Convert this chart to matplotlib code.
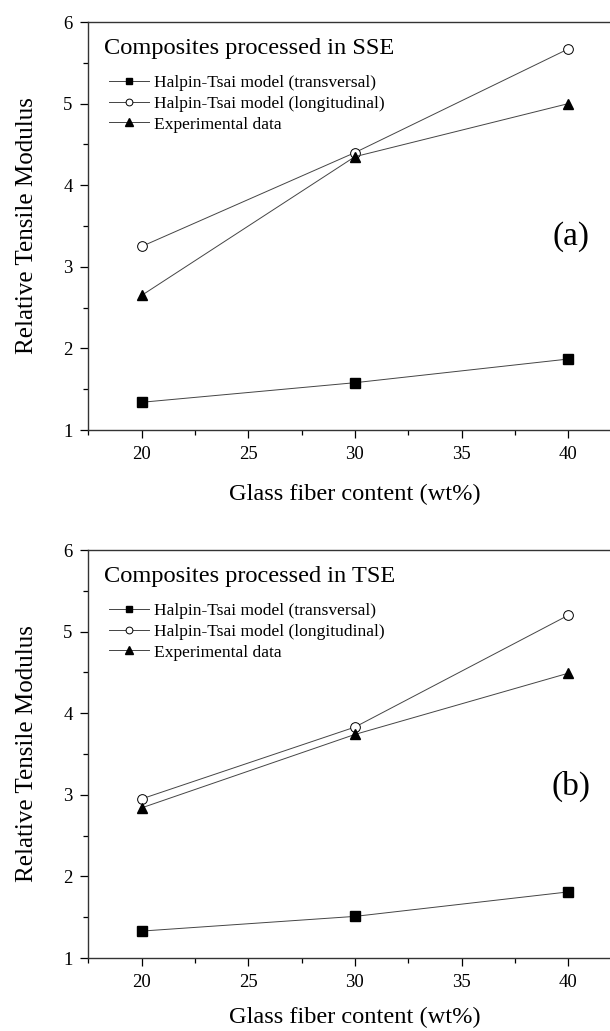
import numpy as np
import matplotlib
matplotlib.use("Agg")
import matplotlib.pyplot as plt
from matplotlib.ticker import MultipleLocator

plt.rcParams['font.family'] = ['Liberation Serif', 'DejaVu Serif']

# glass fiber content (wt%)
fiber = [20, 30, 40]

# (a) composites processed in SSE
sse_trans = [1.34, 1.58, 1.87]
sse_long = [3.25, 4.40, 5.67]
sse_exp = [2.65, 4.35, 5.00]

# (b) composites processed in TSE
tse_trans = [1.33, 1.51, 1.81]
tse_long = [2.95, 3.83, 5.20]
tse_exp = [2.84, 3.74, 4.49]

labels = ['Halpin-Tsai model (transversal)',
          'Halpin-Tsai model (longitudinal)',
          'Experimental data']

fig = plt.figure(figsize=(6.1, 10.31), dpi=100)
# the right edge of the frame is cut off by the figure border, like the original
ax1 = fig.add_axes([0.1448, 0.5829, 0.874, 0.3957])
ax2 = fig.add_axes([0.1448, 0.0708, 0.874, 0.3957])

# panel, data, process name, tag, tag height, xlabel pad
panels = [(ax1, sse_trans, sse_long, sse_exp, 'SSE', '(a)', 0.474, 15.5),
          (ax2, tse_trans, tse_long, tse_exp, 'TSE', '(b)', 0.42, 12)]

for ax, tr, lo, ex, proc, tag, tag_y, xpad in panels:
    ax.plot(fiber, tr, '-', color='#444444', lw=0.7, marker='s', ms=6.5,
            mfc='black', mec='black', label=labels[0])
    ax.plot(fiber, lo, '-', color='#444444', lw=0.7, marker='o', ms=7,
            mfc='white', mec='black', mew=0.7, label=labels[1])
    ax.plot(fiber, ex, '-', color='#444444', lw=0.7, marker='^', ms=7.5,
            mfc='black', mec='black', label=labels[2])

    ax.set_xlim(17.5, 42.5)
    ax.set_ylim(1, 6)
    ax.xaxis.set_major_locator(MultipleLocator(5))
    ax.xaxis.set_minor_locator(MultipleLocator(2.5))
    ax.yaxis.set_major_locator(MultipleLocator(1))
    ax.yaxis.set_minor_locator(MultipleLocator(0.5))
    ax.tick_params(which='both', direction='out', top=False, right=False,
                   labelsize=13.5, width=0.9)
    ax.tick_params(which='major', length=5.8, pad=5.5)
    ax.tick_params(which='minor', length=3.8)
    for sp in ax.spines.values():
        sp.set_linewidth(1.0)
        sp.set_color('#333333')

    ax.set_xlabel('Glass fiber content (wt%)', fontsize=17.6, labelpad=xpad)
    ax.set_ylabel('Relative Tensile Modulus', fontsize=18, labelpad=18.5)

    ax.text(0.0295, 0.9355, 'Composites processed in ' + proc,
            transform=ax.transAxes, fontsize=17.6, va='center', ha='left')
    ax.text(0.905, tag_y, tag, transform=ax.transAxes, fontsize=24,
            va='center', ha='center')

    ax.legend(loc='upper left', bbox_to_anchor=(0.015, 0.9), frameon=False,
              fontsize=12.6, handlelength=2.3, handletextpad=0.3,
              labelspacing=0.25, markerscale=0.7, borderaxespad=0.3)

fig.savefig('out.png', dpi=100)
